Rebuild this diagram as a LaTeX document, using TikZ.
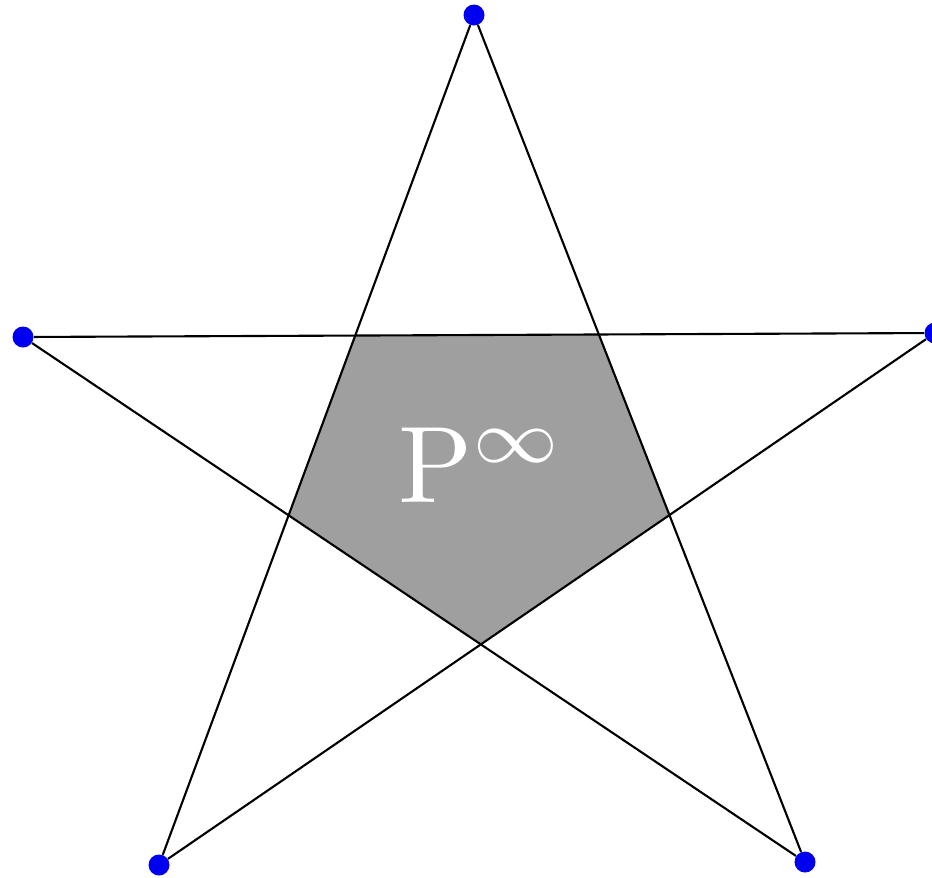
\documentclass[tikz,border=0pt]{standalone}
\usepackage{amsmath}
\usepackage{tikz}
\usetikzlibrary{calc}
\usepackage{xcolor}
\definecolor{dotBlue}{RGB}{0,0,240}
\definecolor{coreGray}{RGB}{159,159,159}

\begin{document}
\begin{tikzpicture}[x=0.02cm, y=-0.02cm,
  tip/.style={circle, fill=dotBlue, inner sep=0pt, minimum size=0.42cm},
  edge/.style={line width=1.2pt, black},
  core/.style={fill=coreGray, draw=none}
]
  \useasboundingbox (0,0) rectangle (932,877);
  % star points
  \node[tip] (top)      at (474,15)  {};
  \node[tip] (right)    at (935,333) {};
  \node[tip] (lowright) at (805,862) {};
  \node[tip] (lowleft)  at (159,865) {};
  \node[tip] (left)     at (23,337)  {};
  % inner pentagon
  \fill[core]
    (intersection of top.center--lowleft.center and left.center--right.center) --
    (intersection of top.center--lowright.center and left.center--right.center) --
    (intersection of top.center--lowright.center and right.center--lowleft.center) --
    (intersection of right.center--lowleft.center and left.center--lowright.center) --
    (intersection of left.center--lowright.center and top.center--lowleft.center) -- cycle;
  \node[text=white, scale=6.2] (label) at (482,465)
    {$\mathrm{P}^{\infty}$};
  % star edges
  \draw[edge] (top) -- (lowright);
  \draw[edge] (lowright) -- (left);
  \draw[edge] (left) -- (right);
  \draw[edge] (right) -- (lowleft);
  \draw[edge] (lowleft) -- (top);
\end{tikzpicture}
\end{document}
